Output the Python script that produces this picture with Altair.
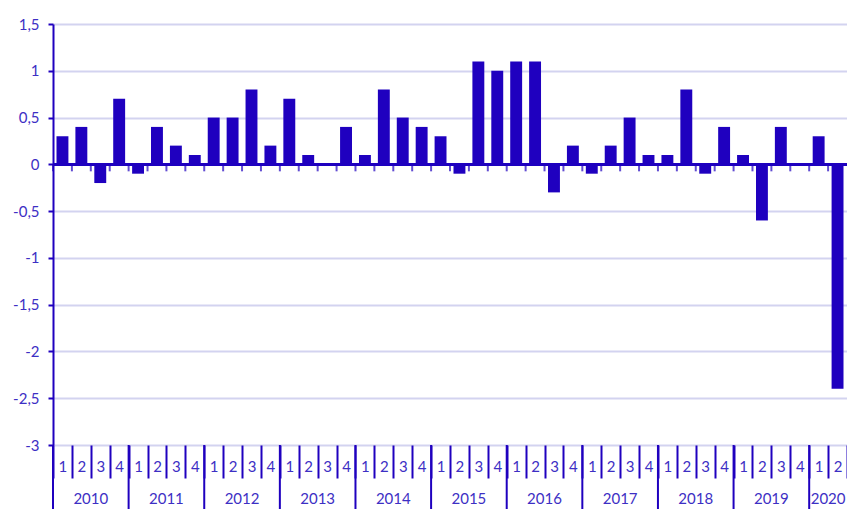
import altair as alt
import pandas as pd

years = [2010, 2011, 2012, 2013, 2014, 2015, 2016, 2017, 2018, 2019, 2020]
quarters = ["1", "2", "3", "4"]
values = [
    0.3, 0.4, -0.2, 0.7,
    -0.1, 0.4, 0.2, 0.1,
    0.5, 0.5, 0.8, 0.2,
    0.7, 0.1, 0.0, 0.4,
    0.1, 0.8, 0.5, 0.4,
    0.3, -0.1, 1.1, 1.0,
    1.1, 1.1, -0.3, 0.2,
    -0.1, 0.2, 0.5, 0.1,
    0.1, 0.8, -0.1, 0.4,
    0.1, -0.6, 0.4, 0.0,
    0.3, -2.4,
]
y_ticks = [-3, -2.5, -2, -1.5, -1, -0.5, 0, 0.5, 1, 1.5]

keys = [f"{y}-{q}" for y in years for q in quarters][: len(values)]
df = pd.DataFrame({"key": keys, "value": values})

year_rows = []
for y in years:
    ks = [k for k in keys if k.startswith(str(y))]
    center = ks[len(ks) // 2]
    year_rows.append({"year": str(y), "start": ks[0], "center": center})
ydf = pd.DataFrame(year_rows)

DARK = "#1F00BF"
TEXT = "#3D2FC4"
GRID = "#D3D3F0"
W, H = 794, 421

xscale = alt.Scale(domain=keys, paddingInner=0, paddingOuter=0)
yscale = alt.Scale(domain=[-3, 1.5], nice=False)

bars = alt.Chart(df).mark_bar(color=DARK, width=alt.RelativeBandSize(0.63)).encode(
    x=alt.X(
        "key:N",
        scale=xscale,
        sort=keys,
        axis=alt.Axis(
            title=None,
            domain=False,
            labelExpr="split(datum.value, '-')[1]",
            labelAngle=0,
            tickBand="extent",
            tickSize=33,
            tickWidth=2,
            tickColor=DARK,
            labelPadding=-12,
            labelBaseline="middle",
            labelFontSize=15,
        ),
    ),
    y=alt.Y(
        "value:Q",
        scale=yscale,
        axis=alt.Axis(
            title=None,
            values=y_ticks,
            labelExpr="replace(toString(datum.value), '.', ',')",
            grid=True,
            gridColor=GRID,
            gridWidth=2,
            domainColor=DARK,
            domainWidth=2,
            tickColor=DARK,
            tickWidth=2,
            tickSize=5,
            labelPadding=9,
            labelFontSize=15,
        ),
    ),
)

zero = alt.Chart(df).mark_rule(color=DARK, strokeWidth=2).encode(
    y=alt.datum(0, scale=yscale)
)

zero_ticks = alt.Chart(df).mark_tick(
    color=DARK, orient="vertical", size=7, thickness=2, yOffset=3.5
).encode(
    x=alt.X("key:N", scale=xscale, sort=keys, bandPosition=0, axis=None),
    y=alt.datum(0, scale=yscale),
)

year_sep = alt.Chart(ydf).mark_rule(color=DARK, strokeWidth=2).encode(
    x=alt.X("start:N", scale=xscale, sort=keys, bandPosition=0, axis=None),
    y=alt.value(H),
    y2=alt.value(H + 70),
)

year_text = alt.Chart(ydf).mark_text(
    color=TEXT, font="Lato", fontSize=15, baseline="middle", align="center"
).encode(
    x=alt.X("center:N", scale=xscale, sort=keys, bandPosition=0, axis=None),
    y=alt.value(H + 54),
    text="year:N",
)

chart = (
    alt.layer(bars, zero, zero_ticks, year_sep, year_text)
    .resolve_axis(x="independent")
    .properties(
        width=W,
        height=H,
        padding={"left": 45, "top": 16, "right": 0, "bottom": 64},
        autosize=alt.AutoSizeParams(type="none"),
    )
    .configure_view(stroke=None)
    .configure_axis(labelFont="Lato", labelColor=TEXT)
)

chart.save("out.html", embed_options={"renderer": "svg", "actions": False})
